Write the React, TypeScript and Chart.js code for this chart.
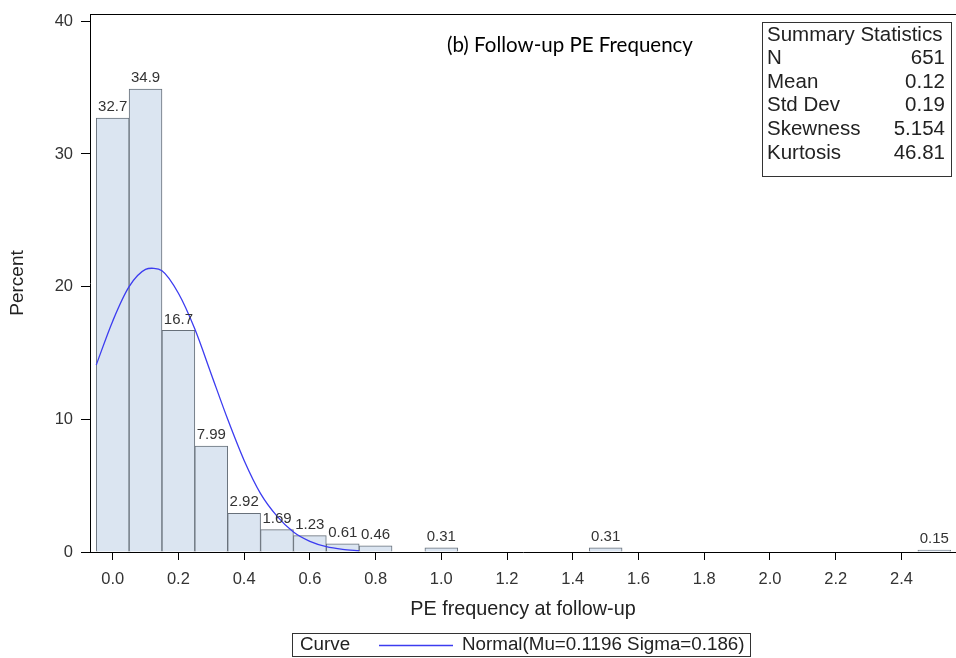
import React, { useEffect, useRef } from "react";
import { Chart, registerables } from "chart.js";

Chart.register(...registerables);

// Histogram bins (midpoints) and percents
const binCenters = [0.0, 0.1, 0.2, 0.3, 0.4, 0.5, 0.6, 0.7, 0.8, 1.0, 1.5, 2.5];
const percents = [32.7, 34.9, 16.7, 7.99, 2.92, 1.69, 1.23, 0.61, 0.46, 0.31, 0.31, 0.15];
const barLabels = ["32.7", "34.9", "16.7", "7.99", "2.92", "1.69", "1.23", "0.61", "0.46", "0.31", "0.31", "0.15"];

// Normal curve points
const curveX = [-0.05, 0.0, 0.05, 0.1, 0.15, 0.2, 0.25, 0.3, 0.35, 0.4, 0.45, 0.5, 0.55, 0.6, 0.65, 0.7, 0.75];
const curveY = [14.1, 17.4, 20.0, 21.3, 21.2, 19.5, 16.8, 13.4, 10.0, 6.9, 4.4, 2.7, 1.5, 0.8, 0.4, 0.2, 0.1];

const xTickStep = 0.2;
const yTickStep = 10;

const chartTitle = "(b) Follow-up PE Frequency";
const statsHeader = "Summary Statistics";
const statLabels = ["N", "Mean", "Std Dev", "Skewness", "Kurtosis"];
const statValues = ["651", "0.12", "0.19", "5.154", "46.81"];
const legendTitle = "Curve";
const legendLabel = "Normal(Mu=0.1196 Sigma=0.186)";

const SANS = '"Liberation Sans", Arial, sans-serif';

export default function App() {
  const ref = useRef<HTMLCanvasElement | null>(null);

  useEffect(() => {
    if (!ref.current) return;

    const overlay = {
      id: "overlay",
      afterDatasetsDraw(chart: any) {
        const ctx = chart.ctx;
        const meta = chart.getDatasetMeta(0);
        ctx.save();
        ctx.font = `15px ${SANS}`;
        ctx.fillStyle = "#333";
        ctx.textAlign = "center";
        ctx.textBaseline = "bottom";
        meta.data.forEach((el: any, i: number) => {
          ctx.fillText(barLabels[i], el.x, el.y - 3.5);
        });
        ctx.restore();
      },
      afterDraw(chart: any) {
        const ctx = chart.ctx;
        const a = chart.chartArea;
        ctx.save();
        // top frame line
        ctx.strokeStyle = "#000";
        ctx.lineWidth = 1;
        ctx.beginPath();
        ctx.moveTo(a.left, Math.round(a.top) + 0.5);
        ctx.lineTo(a.right, Math.round(a.top) + 0.5);
        ctx.stroke();

        // title
        ctx.fillStyle = "#000";
        ctx.font = `20.5px Lato, "Open Sans", sans-serif`;
        ctx.textAlign = "left";
        ctx.textBaseline = "middle";
        ctx.fillText(chartTitle, 447, 45);

        // summary stats box
        ctx.strokeStyle = "#333";
        ctx.strokeRect(762.5, 22.5, 189, 154);
        ctx.fillStyle = "#222";
        ctx.font = `20.5px ${SANS}`;
        ctx.textAlign = "left";
        ctx.fillText(statsHeader, 767, 35);
        statLabels.forEach((l, i) => {
          const y = 35 + 23.6 * (i + 1);
          ctx.textAlign = "left";
          ctx.fillText(l, 767, y);
          ctx.textAlign = "right";
          ctx.fillText(statValues[i], 945, y);
        });

        // legend box
        ctx.strokeStyle = "#333";
        ctx.strokeRect(292.5, 633.5, 458, 23);
        ctx.font = `18.8px ${SANS}`;
        ctx.textAlign = "left";
        ctx.fillStyle = "#222";
        ctx.fillText(legendTitle, 300, 645);
        ctx.strokeStyle = "#3c3cf0";
        ctx.lineWidth = 1.3;
        ctx.beginPath();
        ctx.moveTo(379, 645.5);
        ctx.lineTo(453, 645.5);
        ctx.stroke();
        ctx.fillText(legendLabel, 462, 645);
        ctx.restore();
      },
    };

    const chart = new Chart(ref.current, {
      type: "bar",
      data: {
        datasets: [
          {
            type: "bar",
            data: binCenters.map((x, i) => ({ x, y: percents[i] })),
            backgroundColor: "#dbe5f1",
            borderColor: "#67707a",
            borderWidth: 1,
            categoryPercentage: 1,
            barPercentage: 1,
            order: 2,
          } as any,
          {
            type: "line",
            data: curveX.map((x, i) => ({ x, y: curveY[i] })),
            borderColor: "#3c3cf0",
            borderWidth: 1.3,
            pointRadius: 0,
            tension: 0.3,
            fill: false,
            order: 1,
          } as any,
        ],
      },
      options: {
        animation: false,
        responsive: true,
        maintainAspectRatio: false,
        layout: { padding: { top: 14, right: 0, left: 0, bottom: 0 } },
        plugins: { legend: { display: false }, tooltip: { enabled: false } },
        scales: {
          x: {
            type: "linear",
            min: -0.069,
            max: 2.566,
            offset: false,
            grid: {
              offset: false,
              drawOnChartArea: false,
              drawTicks: true,
              tickLength: 8,
              color: "#000",
            },
            border: { display: true, color: "#000", width: 1 },
            ticks: {
              stepSize: xTickStep,
              includeBounds: false,
              padding: 10,
              color: "#333",
              font: { family: SANS, size: 16.5 },
              callback: (v: any) => Number(v).toFixed(1),
              maxRotation: 0,
              autoSkip: false,
            },
            title: {
              display: true,
              text: "PE frequency at follow-up",
              color: "#222",
              font: { family: SANS, size: 19.8 },
              padding: { top: 0, bottom: 37 },
            },
            afterFit: (s: any) => {
              s.height = 106;
              s.paddingLeft = 0;
              s.paddingRight = 0;
            },
          } as any,
          y: {
            type: "linear",
            min: 0,
            max: 40.55,
            grid: {
              drawOnChartArea: false,
              drawTicks: true,
              tickLength: 9,
              color: "#000",
            },
            border: { display: true, color: "#000", width: 1 },
            ticks: {
              stepSize: yTickStep,
              includeBounds: false,
              padding: 8,
              color: "#333",
              font: { family: SANS, size: 16.5 },
              callback: (v: any) => String(v),
            },
            title: {
              display: true,
              text: "Percent",
              color: "#222",
              font: { family: SANS, size: 19 },
              padding: { top: 6.6, bottom: 0 },
            },
            afterFit: (s: any) => {
              s.width = 90;
              s.paddingTop = 0;
              s.paddingBottom = 0;
            },
          } as any,
        },
      },
      plugins: [overlay],
    });
    return () => chart.destroy();
  }, []);

  return (
    <div style={{ position: "fixed", left: 0, top: 0, width: 956, height: 658, background: "#fff" }}>
      <canvas ref={ref} />
    </div>
  );
}
